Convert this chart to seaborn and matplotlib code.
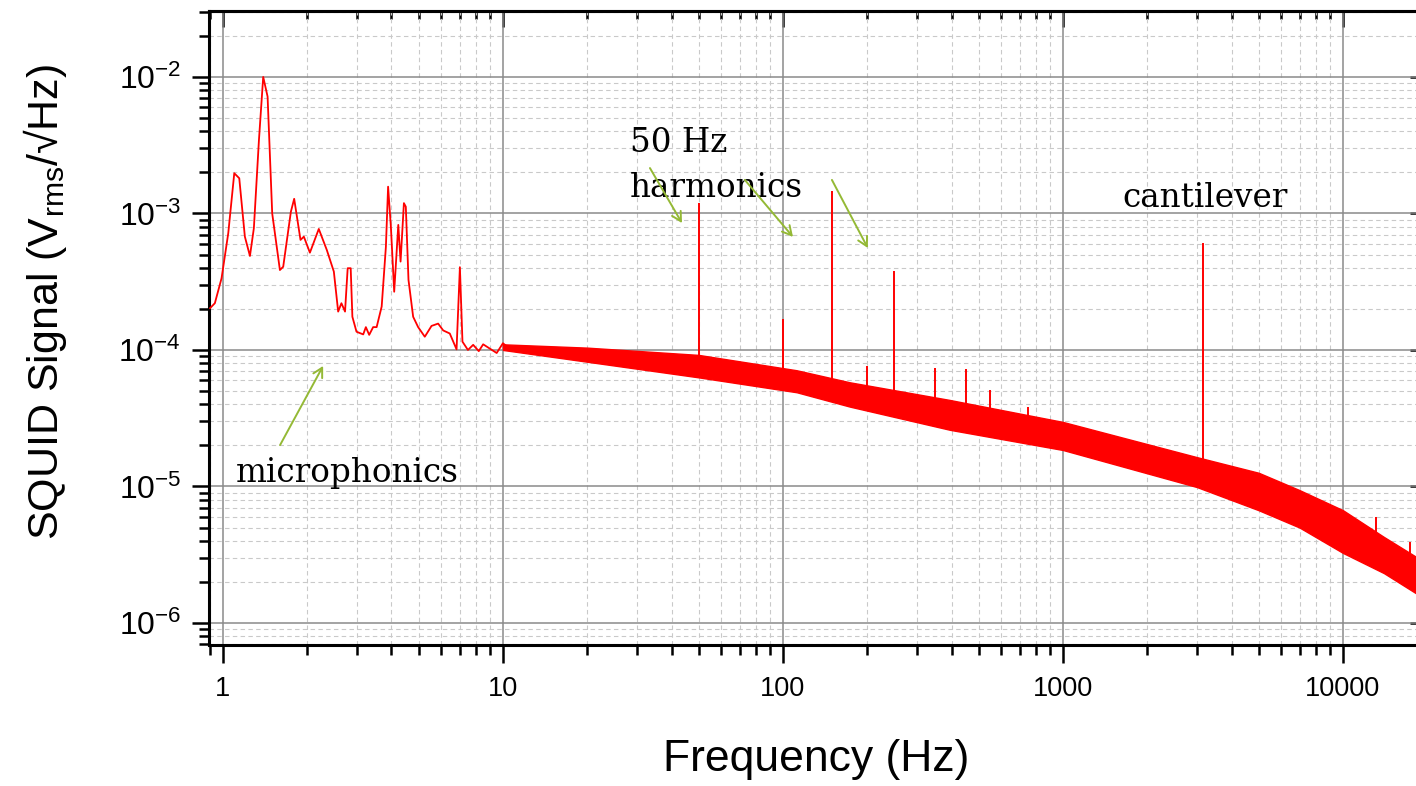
import numpy as np
import matplotlib

matplotlib.use("Agg")
import matplotlib.pyplot as plt
import matplotlib.ticker as mticker
from matplotlib import font_manager
import seaborn as sns

# low-frequency part of the spectrum (Hz, V_rms/sqrt(Hz))
low_freq = [0.899, 0.936, 0.989, 1.045, 1.098, 1.144, 1.198, 1.249, 1.29, 1.345,
            1.393, 1.444, 1.5, 1.598, 1.642, 1.749, 1.797, 1.893, 1.946, 2.045,
            2.2, 2.35, 2.49, 2.58, 2.65, 2.73, 2.79, 2.86, 2.9, 3.0,
            3.17, 3.24, 3.33, 3.44, 3.54, 3.69, 3.82, 3.89, 3.98, 4.09,
            4.23, 4.31, 4.43, 4.5, 4.6, 4.78, 4.98, 5.26, 5.56, 5.87,
            6.12, 6.46, 6.83, 7.02, 7.17, 7.5, 7.83, 8.2, 8.5, 9.0, 9.5, 10.0, 10.4]
low_amp = [2.02e-4, 2.2e-4, 3.35e-4, 7.16e-4, 1.97e-3, 1.81e-3, 6.76e-4, 4.88e-4, 7.8e-4, 3.45e-3,
           1.0e-2, 7.18e-3, 1.0e-3, 3.85e-4, 4.07e-4, 1.03e-3, 1.28e-3, 6.4e-4, 6.76e-4, 5.16e-4,
           7.7e-4, 5.4e-4, 3.75e-4, 1.91e-4, 2.2e-4, 1.91e-4, 3.97e-4, 3.97e-4, 1.75e-4, 1.36e-4,
           1.3e-4, 1.47e-4, 1.29e-4, 1.47e-4, 1.47e-4, 2.08e-4, 5.7e-4, 1.57e-3, 8.0e-4, 2.67e-4,
           8.24e-4, 4.44e-4, 1.19e-3, 1.12e-3, 3.26e-4, 1.75e-4, 1.47e-4, 1.25e-4, 1.5e-4, 1.56e-4,
           1.39e-4, 1.32e-4, 1.01e-4, 4.04e-4, 1.15e-4, 1.0e-4, 1.09e-4, 9.8e-5, 1.1e-4, 1.02e-4,
           9.5e-5, 1.12e-4, 1.05e-4]

# broadband noise floor above ~10 Hz: upper and lower edge of the dense trace
band_freq = [10, 20, 50, 112, 173, 395, 1000, 3010, 5000, 7000, 10000, 14000, 18500]
band_high = [1.1e-4, 1.04e-4, 9.2e-5, 7.1e-5, 5.8e-5, 4.3e-5, 2.97e-5, 1.64e-5,
             1.26e-5, 9.4e-6, 6.7e-6, 4.27e-6, 3.0e-6]
band_low = [1.0e-4, 8.2e-5, 6.3e-5, 4.9e-5, 3.85e-5, 2.6e-5, 1.85e-5, 9.9e-6,
            6.7e-6, 5.0e-6, 3.26e-6, 2.32e-6, 1.62e-6]

# narrow lines: mains harmonics, cantilever and a few small ones
spike_freq = [50, 100, 150, 200, 250, 350, 450, 550, 750, 3150, 13100, 17350]
spike_top = [1.19e-3, 1.68e-4, 1.45e-3, 7.6e-5, 3.81e-4, 7.4e-5, 7.2e-5, 5.1e-5,
             3.85e-5, 6.05e-4, 6.0e-6, 3.95e-6]
spike_base = [7.5e-5, 6.2e-5, 5.6e-5, 5.0e-5, 4.6e-5, 4.1e-5, 3.8e-5, 3.5e-5,
              3.0e-5, 1.3e-5, 4.0e-6, 2.8e-6]

x_ticks = [1, 10, 100, 1000, 10000]
x_tick_labels = ["1", "10", "100", "1000", "10000"]

# annotations (text left/baseline and arrows tail -> head), data coordinates
notes = ["50 Hz", "harmonics", "cantilever", "microphonics"]
note_pos = [(28.4, 2.83e-3), (28.4, 1.32e-3), (1625, 1.12e-3), (1.11, 1.08e-5)]
arrow_tail = [(1.60, 2.01e-5), (33.5, 2.15e-3), (73.1, 1.76e-3), (149.6, 1.76e-3)]
arrow_head = [(2.28, 7.64e-5), (43.6, 8.5e-4), (108.6, 6.73e-4), (201, 5.58e-4)]

RED = "#ff0000"
GREEN = "#94b935"

sns.set_theme(style="white")
plt.rcParams["font.family"] = ["Liberation Sans", "DejaVu Sans"]
plt.rcParams["mathtext.fontset"] = "custom"
plt.rcParams["mathtext.rm"] = "Liberation Sans"
plt.rcParams["mathtext.it"] = "Liberation Sans:italic"
plt.rcParams["mathtext.default"] = "regular"
for key in ["text.color", "axes.labelcolor", "xtick.color", "ytick.color"]:
    plt.rcParams[key] = "black"

names = {f.name for f in font_manager.fontManager.ttflist}
tick_family = "Liberation Sans Narrow" if "Liberation Sans Narrow" in names else "Liberation Sans"

fig = plt.figure(figsize=(14.16, 7.86), dpi=100)
ax = fig.add_axes([209 / 1416, 1 - 645 / 786, (1418 - 209) / 1416, (645 - 11) / 786])
ax.set_xscale("log")
ax.set_yscale("log")
ax.set_xlim(0.892, 18530)
ax.set_ylim(6.9e-7, 3.04e-2)

# grid
ax.grid(which="major", color="#8a8a8a", lw=1.1, ls="-", zorder=0)
ax.grid(which="minor", color="#c9c9c9", lw=0.8, ls=(0, (4, 3)), zorder=0)
ax.set_axisbelow(True)

# spectrum
ax.fill_between(band_freq, band_low, band_high, color=RED, lw=1.0, zorder=3)
sns.lineplot(x=low_freq, y=low_amp, ax=ax, color=RED, lw=1.3, sort=False,
             estimator=None, zorder=4)
ax.vlines(spike_freq, spike_base, spike_top, color=RED, lw=1.4, zorder=4)

# annotations
for txt, (tx, ty) in zip(notes, note_pos):
    ax.text(tx, ty, txt, family="DejaVu Serif", fontsize=23.5, ha="left",
            va="baseline", color="black", zorder=6)
for tail, head in zip(arrow_tail, arrow_head):
    ax.annotate("", xy=head, xytext=tail,
                arrowprops=dict(arrowstyle="->,head_length=0.55,head_width=0.3",
                                color=GREEN, lw=1.4, shrinkA=0, shrinkB=0),
                zorder=6)

# axes styling: outward ticks bottom/left, inward top/right
for s in ax.spines.values():
    s.set_linewidth(2.2)
    s.set_color("black")
ax.yaxis.set_major_locator(mticker.LogLocator(base=10, numticks=20))
ax.yaxis.set_minor_locator(mticker.LogLocator(base=10, subs=np.arange(2, 10), numticks=20))
ax.xaxis.set_major_locator(mticker.FixedLocator(x_ticks))
ax.xaxis.set_major_formatter(mticker.FixedFormatter(x_tick_labels))
ax.xaxis.set_minor_locator(mticker.LogLocator(base=10, subs=np.arange(2, 10), numticks=20))
ax.yaxis.set_minor_formatter(mticker.NullFormatter())
ax.xaxis.set_minor_formatter(mticker.NullFormatter())

ax.tick_params(axis="x", which="major", direction="out", length=13, width=1.8,
               color="black", pad=9, labelsize=19.5, bottom=True, top=False)
ax.tick_params(axis="x", which="minor", direction="out", length=7, width=1.8,
               color="black", bottom=True, top=False)
ax.tick_params(axis="y", which="major", direction="out", length=12, width=1.8,
               color="black", pad=8, labelsize=23, left=True, right=False)
ax.tick_params(axis="y", which="minor", direction="out", length=7, width=1.8,
               color="black", left=True, right=False)
for lab in ax.get_xticklabels():
    lab.set_family(tick_family)

top = ax.secondary_xaxis("top")
top.xaxis.set_major_locator(mticker.FixedLocator(x_ticks))
top.xaxis.set_minor_locator(mticker.LogLocator(base=10, subs=np.arange(2, 10), numticks=20))
top.xaxis.set_major_formatter(mticker.NullFormatter())
top.xaxis.set_minor_formatter(mticker.NullFormatter())
top.tick_params(which="major", direction="in", length=11.5, width=1.8, color="black")
top.tick_params(which="minor", direction="in", length=5.5, width=1.8, color="black")
top.spines["top"].set_linewidth(2.2)

right = ax.secondary_yaxis("right")
right.yaxis.set_major_locator(mticker.LogLocator(base=10, numticks=20))
right.yaxis.set_minor_locator(mticker.NullLocator())
right.yaxis.set_major_formatter(mticker.NullFormatter())
right.tick_params(which="major", direction="in", length=6, width=1.8, color="black")

ax.set_xlabel("Frequency (Hz)", fontsize=32, va="top")
ax.xaxis.set_label_coords((816 - 209) / 1209, -0.148)
ax.set_ylabel("SQUID Signal (V$_{\\mathrm{rms}}$/√Hz)", fontsize=31, va="center")
ax.yaxis.set_label_coords(-0.1357, 0.541)

fig.savefig("out.png", dpi=100)
